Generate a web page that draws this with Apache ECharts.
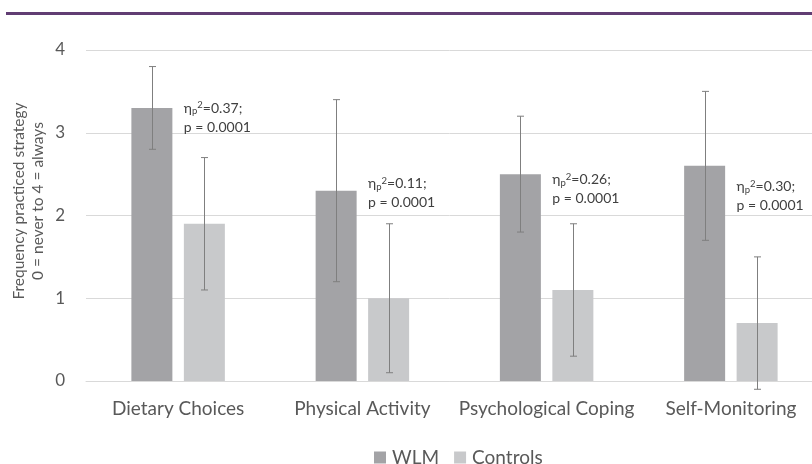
<!DOCTYPE html>
<html>
<head>
<meta charset="utf-8">
<script src="https://cdn.jsdelivr.net/npm/echarts@6/dist/echarts.min.js"></script>
<style>
  html, body { margin: 0; padding: 0; background: #ffffff; }
  #chart { width: 812px; height: 464px; }
</style>
</head>
<body>
<div id="chart"></div>
<script>
// Strategy categories and group results (mean with lower/upper error limits)
const categories = ['Dietary Choices', 'Physical Activity', 'Psychological Coping', 'Self-Monitoring'];
const wlmMeans = [3.3, 2.3, 2.5, 2.6];
const wlmLow = [2.8, 1.2, 1.8, 1.7];
const wlmHigh = [3.8, 3.4, 3.2, 3.5];
const controlMeans = [1.9, 1.0, 1.1, 0.7];
const controlLow = [1.1, 0.1, 0.3, -0.1];
const controlHigh = [2.7, 1.9, 1.9, 1.5];
// Effect sizes and p-values written beside each pair
const etaValues = ['0.37', '0.11', '0.26', '0.30'];
const pValues = ['0.0001', '0.0001', '0.0001', '0.0001'];
// Axis ticks
const yTicks = [0, 1, 2, 3, 4];

// Level (in axis units) where each effect note sits
const noteLevels = [3.18, 2.27, 2.32, 2.23];

const FONT = 'Lato, "Open Sans", sans-serif';
const BAR_W = 41;
const GAP_RATIO = 0.28;
const HALF_STEP = (BAR_W + BAR_W * GAP_RATIO) / 2;

const chart = echarts.init(document.getElementById('chart'), null, { renderer: 'canvas' });

function errorBars(low, high, shift) {
  return {
    type: 'custom',
    z: 5,
    clip: false,
    silent: true,
    data: categories.map((c, i) => [i, low[i], high[i]]),
    renderItem: function (params, api) {
      const i = api.value(0);
      const top = api.coord([i, api.value(2)]);
      const bot = api.coord([i, api.value(1)]);
      const x = Math.round(top[0] + shift) + 0.5;
      const cap = 3.5;
      const style = { stroke: '#7f7f7f', lineWidth: 1 };
      return {
        type: 'group',
        children: [
          { type: 'line', shape: { x1: x, y1: top[1], x2: x, y2: bot[1] }, style: style },
          { type: 'line', shape: { x1: x - cap, y1: top[1], x2: x + cap, y2: top[1] }, style: style },
          { type: 'line', shape: { x1: x - cap, y1: bot[1], x2: x + cap, y2: bot[1] }, style: style }
        ]
      };
    }
  };
}

const noteSeries = {
  type: 'custom',
  z: 6,
  clip: false,
  silent: true,
  data: categories.map((c, i) => [i, noteLevels[i]]),
  renderItem: function (params, api) {
    const i = api.value(0);
    const pt = api.coord([i, api.value(1)]);
    const x = pt[0] + HALF_STEP - BAR_W / 2;
    return {
      type: 'text',
      x: x,
      y: pt[1],
      style: {
        text: '{t|η}{sub|p}{sup|2}{t|=' + etaValues[i] + ';}\n{t|p = ' + pValues[i] + '}',
        align: 'left',
        verticalAlign: 'middle',
        fill: '#404040',
        font: '14px ' + FONT,
        rich: {
          t: { fontSize: 14, fontFamily: FONT, fill: '#404040', lineHeight: 19 },
          sub: { fontSize: 9.5, fontFamily: FONT, fill: '#404040', lineHeight: 19, padding: [6, 0, 0, 0] },
          sup: { fontSize: 9.5, fontFamily: FONT, fill: '#404040', lineHeight: 19, padding: [0, 0, 6, 0] }
        }
      }
    };
  }
};

const option = {
  animation: false,
  backgroundColor: '#ffffff',
  textStyle: { fontFamily: FONT },
  graphic: [
    {
      type: 'line',
      shape: { x1: 6, y1: 13.5, x2: 812, y2: 13.5 },
      style: { stroke: '#613d73', lineWidth: 3 }
    },
    {
      type: 'text',
      x: 28,
      y: 201,
      rotation: Math.PI / 2,
      style: {
        text: 'Frequency practiced strategy\n0 = never to 4 = always',
        font: '15.5px ' + FONT,
        fill: '#595959',
        align: 'center',
        verticalAlign: 'middle',
        lineHeight: 19
      }
    }
  ],
  legend: {
    left: 369,
    top: 443,
    itemWidth: 12,
    itemHeight: 12,
    itemGap: 15,
    icon: 'rect',
    textStyle: { fontSize: 19, color: '#595959', fontFamily: FONT, padding: [0, 0, 0, 1] },
    data: ['WLM', 'Controls']
  },
  grid: { left: 86, right: -11, top: 50, bottom: 83, outerBoundsMode: 'none', containLabel: false },
  xAxis: {
    type: 'category',
    data: categories,
    axisLine: { show: true, lineStyle: { color: '#d9d9d9', width: 1 } },
    axisTick: { show: false },
    axisLabel: { interval: 0, fontSize: 19, color: '#595959', margin: 18, fontFamily: FONT },
    splitLine: { show: false }
  },
  yAxis: {
    type: 'value',
    min: yTicks[0],
    max: yTicks[yTicks.length - 1],
    interval: yTicks[1] - yTicks[0],
    axisLine: { show: false },
    axisTick: { show: false },
    axisLabel: { fontSize: 17, color: '#595959', margin: 21, fontFamily: FONT },
    splitLine: { lineStyle: { color: '#d9d9d9', width: 1 } }
  },
  series: [
    {
      name: 'WLM',
      type: 'bar',
      data: wlmMeans,
      barWidth: BAR_W,
      barGap: (GAP_RATIO * 100) + '%',
      itemStyle: { color: '#a3a3a6' }
    },
    {
      name: 'Controls',
      type: 'bar',
      data: controlMeans,
      barWidth: BAR_W,
      barGap: (GAP_RATIO * 100) + '%',
      itemStyle: { color: '#c8c9cb' }
    },
    errorBars(wlmLow, wlmHigh, -HALF_STEP),
    errorBars(controlLow, controlHigh, HALF_STEP),
    noteSeries
  ]
};

chart.setOption(option);
</script>
</body>
</html>
